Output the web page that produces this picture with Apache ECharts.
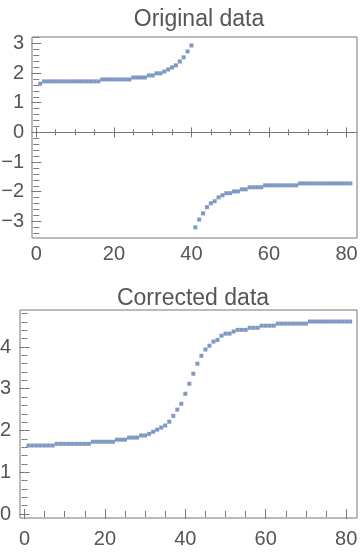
<!DOCTYPE html>
<html><head><meta charset="utf-8">
<script src="https://cdn.jsdelivr.net/npm/echarts@6/dist/echarts.min.js"></script>
<style>html,body{margin:0;padding:0;background:#fff}#c{width:360px;height:556px}</style>
</head><body><div id="c"></div>
<script>
const xIndex = [1,2,3,4,5,6,7,8,9,10,11,12,13,14,15,16,17,18,19,20,21,22,23,24,25,26,27,28,29,30,31,32,33,34,35,36,37,38,39,40,41,42,43,44,45,46,47,48,49,50,51,52,53,54,55,56,57,58,59,60,61,62,63,64,65,66,67,68,69,70,71,72,73,74,75,76,77,78,79,80,81];
const originalData = [
  1.64,1.72,1.72,1.72,1.72,1.72,1.72,1.72,1.72,1.72,
  1.72,1.72,1.72,1.72,1.72,1.72,1.785,1.785,1.785,1.785,
  1.785,1.785,1.785,1.785,1.85,1.85,1.85,1.85,1.92,1.92,
  1.99,1.99,2.05,2.12,2.19,2.26,2.39,2.53,2.73,2.93,
  -3.20,-2.94,-2.73,-2.52,-2.39,-2.32,-2.19,-2.12,-2.05,-2.05,
  -1.99,-1.99,-1.92,-1.92,-1.85,-1.85,-1.85,-1.85,-1.785,-1.785,
  -1.785,-1.785,-1.785,-1.785,-1.785,-1.785,-1.785,-1.72,-1.72,-1.72,
  -1.72,-1.72,-1.72,-1.72,-1.72,-1.72,-1.72,-1.72,-1.72,-1.72,-1.72
];
const correctedData = [
  1.64,1.64,1.64,1.64,1.64,1.64,1.64,1.68,1.68,1.68,
  1.68,1.68,1.68,1.68,1.68,1.68,1.73,1.73,1.73,1.73,
  1.73,1.73,1.78,1.78,1.78,1.83,1.83,1.83,1.88,1.88,
  1.92,1.97,2.02,2.07,2.12,2.21,2.35,2.50,2.64,2.88,
  3.12,3.36,3.60,3.79,3.94,4.03,4.13,4.17,4.27,4.32,
  4.32,4.37,4.41,4.41,4.41,4.46,4.46,4.46,4.51,4.51,
  4.51,4.51,4.56,4.56,4.56,4.56,4.56,4.56,4.56,4.56,
  4.61,4.61,4.61,4.61,4.61,4.61,4.61,4.61,4.61,4.61,4.61
];
const xMajorTicks = [0,20,40,60,80];
const xMinorTicks = [5,10,15,25,30,35,45,50,55,65,70,75];
const topYMajorTicks = [-3,-2,-1,0,1,2,3];
const topYMinorTicks = [-3.4,-3.2,-2.8,-2.6,-2.4,-2.2,-1.8,-1.6,-1.4,-1.2,-0.8,-0.6,-0.4,-0.2,0.2,0.4,0.6,0.8,1.2,1.4,1.6,1.8,2.2,2.4,2.6,2.8,3.2];
const bottomYMajorTicks = [0,1,2,3,4];
const bottomYMinorTicks = [0.2,0.4,0.6,0.8,1.2,1.4,1.6,1.8,2.2,2.4,2.6,2.8,3.2,3.4,3.6,3.8,4.2,4.4,4.6,4.8];
const titles = ['Original data', 'Corrected data'];

const FRAME = '#777777';
const LABEL = '#555555';
const POINT = '#5E81B5';
const FONT = 'Liberation Sans, Arial, sans-serif';
const fmt = v => v < 0 ? '\u2212' + (-v) : String(v);

function xAxes(grid, min, max, labelMargin) {
  const base = {type:'value', gridIndex:grid, min:min, max:max, axisLine:{show:false}, splitLine:{show:false}};
  return [
    Object.assign({}, base, {position:'bottom', axisTick:{show:true, inside:true, length:5, customValues:xMajorTicks, lineStyle:{color:FRAME}},
      axisLabel:{show:true, customValues:xMajorTicks, margin:labelMargin, color:LABEL, fontSize:20, fontFamily:FONT}}),
    Object.assign({}, base, {position:'bottom', axisTick:{show:true, inside:true, length:3, customValues:xMinorTicks, lineStyle:{color:FRAME}}, axisLabel:{show:false}}),
    Object.assign({}, base, {position:'top', axisTick:{show:true, inside:true, length:5, customValues:xMajorTicks, lineStyle:{color:FRAME}}, axisLabel:{show:false}}),
    Object.assign({}, base, {position:'top', axisTick:{show:true, inside:true, length:3, customValues:xMinorTicks, lineStyle:{color:FRAME}}, axisLabel:{show:false}})
  ];
}
function yAxes(grid, min, max, major, minor, margin) {
  const base = {type:'value', gridIndex:grid, min:min, max:max, axisLine:{show:false}, splitLine:{show:false}};
  return [
    Object.assign({}, base, {position:'left', axisTick:{show:true, inside:true, length:5, customValues:major, lineStyle:{color:FRAME}},
      axisLabel:{show:true, customValues:major, margin:margin, color:LABEL, fontSize:20, fontFamily:FONT, formatter:fmt}}),
    Object.assign({}, base, {position:'left', axisTick:{show:true, inside:true, length:3, customValues:minor, lineStyle:{color:FRAME}}, axisLabel:{show:false}}),
    Object.assign({}, base, {position:'right', axisTick:{show:true, inside:true, length:5, customValues:major, lineStyle:{color:FRAME}}, axisLabel:{show:false}}),
    Object.assign({}, base, {position:'right', axisTick:{show:true, inside:true, length:3, customValues:minor, lineStyle:{color:FRAME}}, axisLabel:{show:false}})
  ];
}

const chart = echarts.init(document.getElementById('c'), null, {renderer:'canvas'});
chart.setOption({
  animation:false,
  backgroundColor:'#ffffff',
  title:[
    {text:titles[0], left:194, top:3, textAlign:'center', textStyle:{color:LABEL, fontSize:23, fontWeight:'normal', fontFamily:FONT}},
    {text:titles[1], left:188, top:282, textAlign:'center', textStyle:{color:LABEL, fontSize:23, fontWeight:'normal', fontFamily:FONT}}
  ],
  grid:[
    {left:32, top:37, width:325, height:201, show:true, borderColor:FRAME, borderWidth:1, backgroundColor:'transparent', outerBoundsMode:'none', containLabel:false},
    {left:20, top:310, width:337, height:208, show:true, borderColor:FRAME, borderWidth:1, backgroundColor:'transparent', outerBoundsMode:'none', containLabel:false}
  ],
  xAxis: xAxes(0, -1.12, 82.7, 6).concat(xAxes(1, -1.12, 82.7, 11)),
  yAxis: yAxes(0, -3.56, 3.215, topYMajorTicks, topYMinorTicks, 8).concat(yAxes(1, -0.096, 4.886, bottomYMajorTicks, bottomYMinorTicks, 9)),
  series:[
    {type:'scatter', xAxisIndex:0, yAxisIndex:0, symbol:'rect', symbolSize:4, itemStyle:{color:POINT},
      data: xIndex.map((x,i)=>[x, originalData[i]]),
      markLine:{silent:true, symbol:'none', label:{show:false}, lineStyle:{color:FRAME, width:1, type:'solid'}, data:[{yAxis:0}]}},
    {type:'scatter', xAxisIndex:4, yAxisIndex:4, symbol:'rect', symbolSize:4, itemStyle:{color:POINT},
      data: xIndex.map((x,i)=>[x, correctedData[i]])}
  ]
});
</script></body></html>
